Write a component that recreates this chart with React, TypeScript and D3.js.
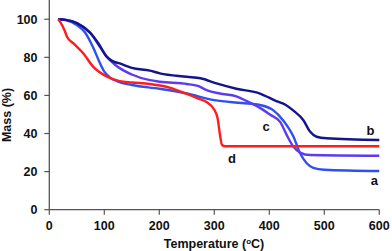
import React from "react";
import * as d3 from "d3";

const xTicks = [0, 100, 200, 300, 400, 500, 600];
const yTicks = [0, 20, 40, 60, 80, 100];

const seriesA: [number, number][] = [[16,100],[30,99.5],[50,97],[65,93],[80,85],[92,77],[100,72.5],[110,69.5],[125,67.3],[150,65.5],[200,63.5],[250,61],[300,57.5],[350,56],[383,55],[407,52.3],[425,47],[444,38.3],[456,29.6],[468,24.4],[480,22],[500,21],[600,20.3]];
const seriesB: [number, number][] = [[16,100],[30,99.7],[50,98],[74,93],[90,87],[104,80.5],[115,78],[128,76.8],[150,74.5],[183,73],[201,71.6],[250,69.8],[275,69],[304,66.3],[340,63.5],[383,61],[413,57],[430,55],[444,52],[462,47],[474,41],[486,38.3],[504,37.5],[600,36.6]];
const seriesC: [number, number][] = [[16,100],[30,99.7],[50,98],[74,93],[92,85.5],[104,80.5],[120,76],[150,71],[183,68],[201,67.2],[250,66],[270,65],[286,62.8],[310,61],[340,59.5],[359,57],[380,54],[401,50],[420,46],[432,39],[444,33],[456,30],[474,28.7],[600,28.3]];
const seriesD: [number, number][] = [[16,100],[20,98.5],[28,94],[32,91],[44,87.3],[62,82],[80,75],[104,70],[128,67.5],[150,66.8],[183,66],[220,64],[244,61.5],[270,58.5],[286,56.5],[300,52.5],[306,48],[310,40],[314,34],[320,33.3],[600,33.3]];

const series = [
  { name: "a", data: seriesA, color: "#2f4ff2" },
  { name: "c", data: seriesC, color: "#5b3cf2" },
  { name: "b", data: seriesB, color: "#14148c" },
  { name: "d", data: seriesD, color: "#ff1c1c" },
];

const labels = [
  { text: "a", t: 591, m: 15.5 },
  { text: "b", t: 584, m: 41.5 },
  { text: "c", t: 394, m: 44 },
  { text: "d", t: 332, m: 27 },
];

export default function App() {
  const W = 392, H = 251;
  const x = d3.scaleLinear().domain([0, 600]).range([49.3, 379.3]);
  const y = d3.scaleLinear().domain([0, 110]).range([209.7, 0.2]);
  const line = d3.line<[number, number]>().x(d => x(d[0])).y(d => y(d[1])).curve(d3.curveMonotoneX);
  const font = "Arial, 'Liberation Sans', sans-serif";
  return (
    <svg width={W} height={H} style={{ position: "absolute", left: 0, top: 0 }} fontFamily={font}>
      <rect width={W} height={H} fill="white" />
      {series.map(s => (
        <path key={s.name} d={line(s.data) || ""} fill="none" stroke={s.color} strokeWidth={2.4} strokeLinejoin="round" />
      ))}
      <line x1={x(0)} x2={x(0)} y1={y(0)} y2={0} stroke="#555" strokeWidth={1.3} />
      <line x1={x(0)} x2={x(600)} y1={y(0)} y2={y(0)} stroke="#555" strokeWidth={1.3} />
      {yTicks.map(v => (
        <g key={v}>
          <line x1={x(0) - 5} x2={x(0)} y1={y(v)} y2={y(v)} stroke="#555" strokeWidth={1.2} />
          <text x={37.5} y={y(v)} dy="0.36em" textAnchor="end" fontSize={12.5} fontWeight="bold" fill="#111">{v}</text>
        </g>
      ))}
      {xTicks.map(v => (
        <g key={v}>
          <line x1={x(v)} x2={x(v)} y1={y(0)} y2={y(0) + 5} stroke="#555" strokeWidth={1.2} />
          <text x={x(v)} y={230} textAnchor="middle" fontSize={12.5} fontWeight="bold" fill="#111">{v}</text>
        </g>
      ))}
      <text x={214} y={248} textAnchor="middle" fontSize={12.5} fontWeight="bold" fill="#111">
        Temperature (<tspan fontSize={8} baselineShift="super">o</tspan>C)
      </text>
      <text transform="translate(11,115) rotate(-90)" textAnchor="middle" fontSize={12.5} fontWeight="bold" fill="#111">Mass (%)</text>
      {labels.map(l => (
        <text key={l.text} x={x(l.t)} y={y(l.m)} dy="0.36em" textAnchor="middle" fontSize={13} fontWeight="bold" fill="#111">{l.text}</text>
      ))}
    </svg>
  );
}
